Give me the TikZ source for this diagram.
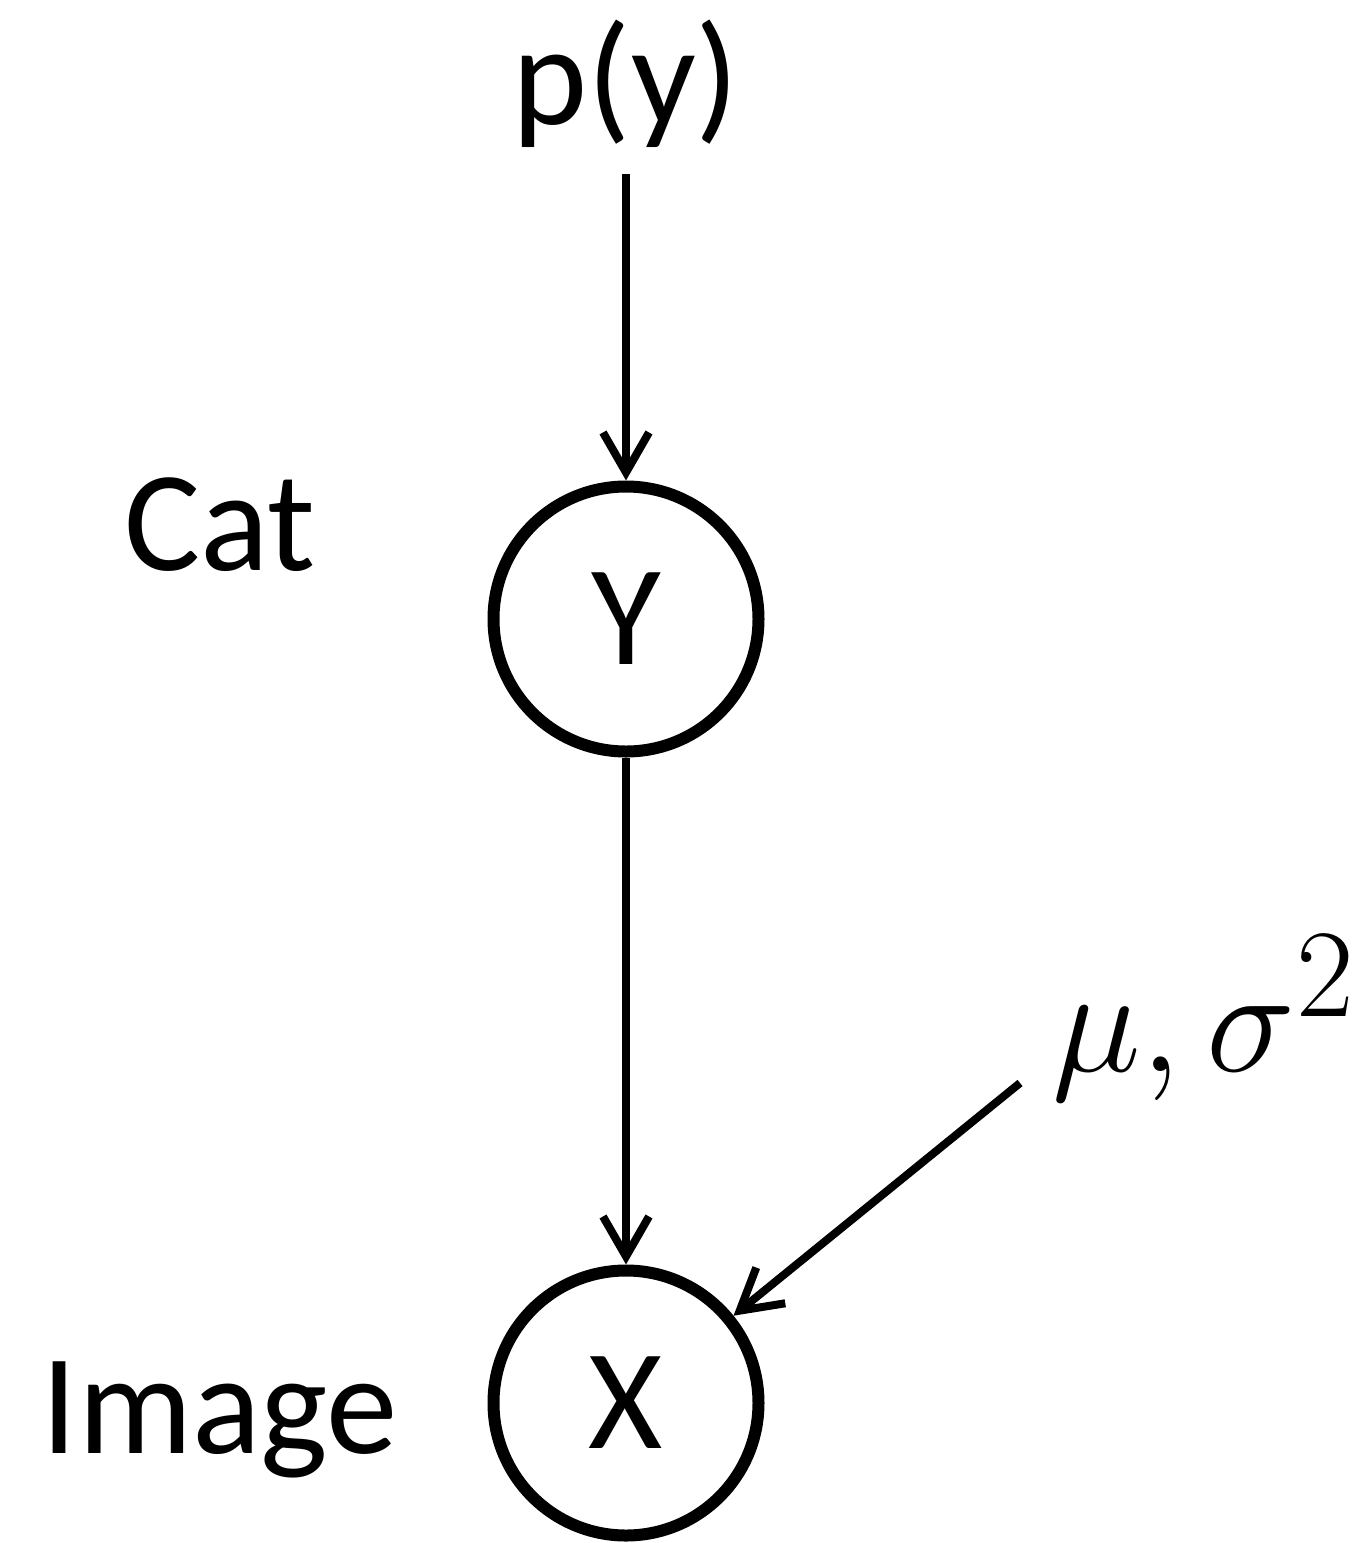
\documentclass[tikz,border=0pt]{standalone}
\usepackage{fontspec}
\usepackage{graphicx}
\setmainfont{Carlito}
\usetikzlibrary{arrows.meta}

\begin{document}
\begin{tikzpicture}[
      x=1pt, y=-1pt,
      knoten/.style={circle, draw=black, line width=12pt, minimum size=265pt,
        inner sep=0pt, font=\fontsize{143}{150}\selectfont},
      pfeil/.style={-{Straight Barb[length=40pt, width=46pt, sharp]}, black, line width=8pt},
      beschriftung/.style={font=\fontsize{143}{150}\selectfont, inner sep=0pt}
    ]
    \useasboundingbox (0,0) rectangle (1363,1543);

    % ---------- Knoten ----------
    \node[knoten] (Y) at (626,619)  {Y};
    \node[knoten] (X) at (626,1403) {X};

    % ---------- Beschriftungen ----------
    \node[beschriftung, anchor=base] (py)   at (626,124)  {p(y)};
    \node[beschriftung, anchor=base] (cat)  at (220,570)  {Cat};
    \node[beschriftung, anchor=base] (bild) at (220,1453) {Image};
    \node[inner sep=0pt, anchor=base west] (param) at (1052,1071)
      {\scalebox{6.05}{\Huge$\mu,\sigma^2$}};
    \coordinate (param start) at (1020,1083);

    % ---------- Pfeile ----------
    \draw[pfeil, shorten <=27pt] (py) -- (Y);
    \draw[pfeil] (Y) -- (X);
    \draw[pfeil] (param start) -- (X);
  \end{tikzpicture}
\end{document}
